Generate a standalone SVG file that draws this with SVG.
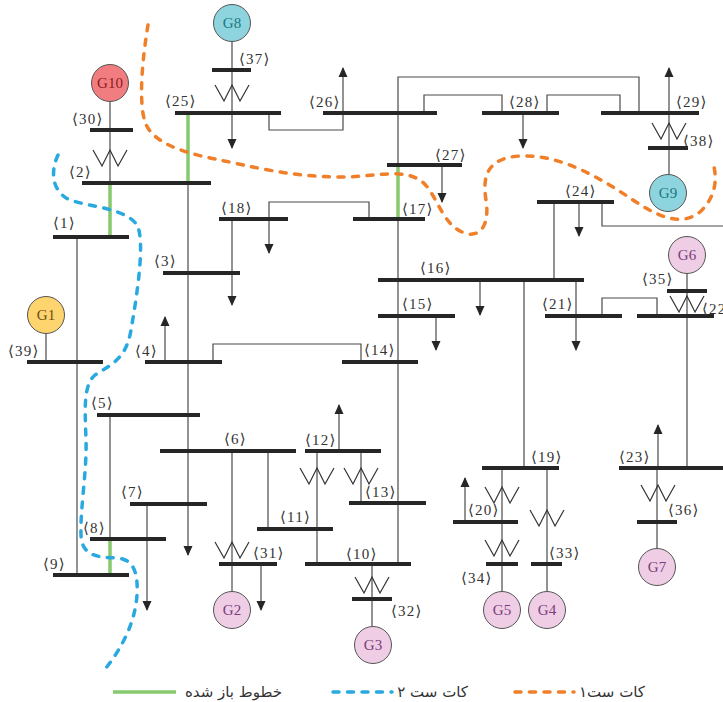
<svg xmlns="http://www.w3.org/2000/svg" xmlns:xlink="http://www.w3.org/1999/xlink" width="723" height="702" viewBox="0 0 723 702">
<style>
.bus{stroke:#262626;stroke-width:4;fill:none}
.ln{stroke:#4a4a4a;stroke-width:1.2;fill:none}
.open{stroke:#86c96e;stroke-width:3.5;fill:none}
.lbl{font-family:"Liberation Serif","DejaVu Serif",serif;font-size:15px;letter-spacing:1.2px;fill:#333}
.gt{font-family:"Liberation Serif","DejaVu Serif",serif;font-size:15px;text-anchor:middle}
.gc{stroke:#555;stroke-width:1}
.pink{fill:#efcde4}
.pinkt{fill:#7a3c7c}
.cyan{fill:#8ed4de}
.cyant{fill:#177a83}
.cut1{stroke:#f07f2a;stroke-width:3.5;fill:none;stroke-dasharray:6 8.5;stroke-linecap:round}
.cut2{stroke:#2aa9e0;stroke-width:3.5;fill:none;stroke-dasharray:6 8.5;stroke-linecap:round}
.leg{font-family:"DejaVu Sans","Noto Sans",sans-serif;font-size:15px;fill:#333}
</style>
<defs>
<marker id="ah" markerUnits="userSpaceOnUse" markerWidth="10" markerHeight="10" viewBox="0 0 10 10" refX="9" refY="5" orient="auto">
<path d="M0,0.5 L10,5 L0,9.5 Z" fill="#262626"/>
</marker>
<path id="tr" d="M-17,0 L-8,16 L0,0 L8,16 L17,0" stroke="#333" stroke-width="1.2" fill="none"/>
</defs>
<rect width="723" height="702" fill="#ffffff"/>

<g id="connectors">
<path class="ln" d="M110,102 V183"/>
<path class="ln" d="M232,42 V113"/>
<path class="ln" d="M232,113 V148" marker-end="url(#ah)"/>
<path class="ln" d="M269,113 V130 H343 V113"/>
<path class="ln" d="M343,113 V68" marker-end="url(#ah)"/>
<path class="ln" d="M398,564 V77 H639 V113"/>
<path class="ln" d="M424,113 V95 H502 V113"/>
<path class="ln" d="M547,113 V95 H620 V113"/>
<path class="ln" d="M669,113 V68" marker-end="url(#ah)"/>
<path class="ln" d="M669,113 V175"/>
<path class="ln" d="M523,113 V148" marker-end="url(#ah)"/>
<path class="ln" d="M369,219 V202 H269 V253" marker-end="url(#ah)"/>
<path class="ln" d="M232,219 V305" marker-end="url(#ah)"/>
<path class="ln" d="M442,165 V202" marker-end="url(#ah)"/>
<path class="ln" d="M579,202 V236" marker-end="url(#ah)"/>
<path class="ln" d="M602,202 V226 H723"/>
<path class="ln" d="M554,202 V280"/>
<path class="ln" d="M480,280 V315" marker-end="url(#ah)"/>
<path class="ln" d="M524,280 V468"/>
<path class="ln" d="M576,280 V350" marker-end="url(#ah)"/>
<path class="ln" d="M436,316 V350" marker-end="url(#ah)"/>
<path class="ln" d="M602,316 V298 H657 V316"/>
<path class="ln" d="M687,274 V468"/>
<path class="ln" d="M658,468 V425" marker-end="url(#ah)"/>
<path class="ln" d="M657,468 V548"/>
<path class="ln" d="M77,237 V575"/>
<path class="ln" d="M46,334 V362"/>
<path class="ln" d="M165,362 V317" marker-end="url(#ah)"/>
<path class="ln" d="M213,362 V344 H361 V362"/>
<path class="ln" d="M110,415 V539"/>
<path class="ln" d="M188,183 V555" marker-end="url(#ah)"/>
<path class="ln" d="M147,504 V610" marker-end="url(#ah)"/>
<path class="ln" d="M232,451 V591"/>
<path class="ln" d="M261,564 V610" marker-end="url(#ah)"/>
<path class="ln" d="M268,451 V529"/>
<path class="ln" d="M317,451 V564"/>
<path class="ln" d="M361,451 V503"/>
<path class="ln" d="M339,451 V405" marker-end="url(#ah)"/>
<path class="ln" d="M372,564 V626"/>
<path class="ln" d="M502,468 V591"/>
<path class="ln" d="M547,468 V591"/>
<path class="ln" d="M465,522 V478" marker-end="url(#ah)"/>
<path class="open" d="M110,183 V237"/>
<path class="open" d="M188,113 V183"/>
<path class="open" d="M398,165 V219"/>
<path class="open" d="M110,539 V575"/>
</g>

<g id="transformers">
<use xlink:href="#tr" x="110" y="150"/>
<use xlink:href="#tr" x="232" y="85"/>
<use xlink:href="#tr" x="669" y="123"/>
<use xlink:href="#tr" x="687" y="296"/>
<use xlink:href="#tr" x="317" y="468"/>
<use xlink:href="#tr" x="361" y="468"/>
<use xlink:href="#tr" x="232" y="542"/>
<use xlink:href="#tr" x="372" y="577"/>
<use xlink:href="#tr" x="502" y="487"/>
<use xlink:href="#tr" x="502" y="540"/>
<use xlink:href="#tr" x="547" y="510"/>
<use xlink:href="#tr" x="658" y="485"/>
</g>

<g id="bus1"><path class="bus" d="M53,237 H129"/><text class="lbl" x="53" y="228">⟨1⟩</text></g>
<g id="bus2"><path class="bus" d="M82,183 H211"/><text class="lbl" x="69" y="177">⟨2⟩</text></g>
<g id="bus3"><path class="bus" d="M163,273 H240"/><text class="lbl" x="154" y="266">⟨3⟩</text></g>
<g id="bus4"><path class="bus" d="M145,362 H222"/><text class="lbl" x="135" y="356">⟨4⟩</text></g>
<g id="bus5"><path class="bus" d="M97,415 H200"/><text class="lbl" x="91" y="408">⟨5⟩</text></g>
<g id="bus6"><path class="bus" d="M160,451 H296"/><text class="lbl" x="224" y="444">⟨6⟩</text></g>
<g id="bus7"><path class="bus" d="M130,504 H207"/><text class="lbl" x="121" y="497">⟨7⟩</text></g>
<g id="bus8"><path class="bus" d="M90,539 H166"/><text class="lbl" x="83" y="533">⟨8⟩</text></g>
<g id="bus9"><path class="bus" d="M53,575 H129"/><text class="lbl" x="43" y="569">⟨9⟩</text></g>
<g id="bus10"><path class="bus" d="M305,564 H411"/><text class="lbl" x="346" y="559">⟨10⟩</text></g>
<g id="bus11"><path class="bus" d="M257,529 H333"/><text class="lbl" x="280" y="522">⟨11⟩</text></g>
<g id="bus12"><path class="bus" d="M305,451 H381"/><text class="lbl" x="305" y="445">⟨12⟩</text></g>
<g id="bus13"><path class="bus" d="M349,503 H426"/><text class="lbl" x="365" y="497">⟨13⟩</text></g>
<g id="bus14"><path class="bus" d="M342,362 H418"/><text class="lbl" x="364" y="355">⟨14⟩</text></g>
<g id="bus15"><path class="bus" d="M378,316 H455"/><text class="lbl" x="402" y="309">⟨15⟩</text></g>
<g id="bus16"><path class="bus" d="M378,280 H584"/><text class="lbl" x="420" y="273">⟨16⟩</text></g>
<g id="bus17"><path class="bus" d="M353,219 H425"/><text class="lbl" x="402" y="214">⟨17⟩</text></g>
<g id="bus18"><path class="bus" d="M219,219 H288"/><text class="lbl" x="221" y="213">⟨18⟩</text></g>
<g id="bus19"><path class="bus" d="M482,468 H559"/><text class="lbl" x="531" y="462">⟨19⟩</text></g>
<g id="bus20"><path class="bus" d="M453,522 H518"/><text class="lbl" x="468" y="515">⟨20⟩</text></g>
<g id="bus21"><path class="bus" d="M545,316 H622"/><text class="lbl" x="542" y="309">⟨21⟩</text></g>
<g id="bus22"><path class="bus" d="M637,316 H714"/><text class="lbl" x="702" y="314">⟨22⟩</text></g>
<g id="bus23"><path class="bus" d="M619,468 H723"/><text class="lbl" x="619" y="462">⟨23⟩</text></g>
<g id="bus24"><path class="bus" d="M537,202 H614"/><text class="lbl" x="565" y="196">⟨24⟩</text></g>
<g id="bus25"><path class="bus" d="M175,113 H281"/><text class="lbl" x="165" y="106">⟨25⟩</text></g>
<g id="bus26"><path class="bus" d="M323,113 H437"/><text class="lbl" x="309" y="107">⟨26⟩</text></g>
<g id="bus27"><path class="bus" d="M387,165 H462"/><text class="lbl" x="435" y="160">⟨27⟩</text></g>
<g id="bus28"><path class="bus" d="M482,113 H559"/><text class="lbl" x="509" y="107">⟨28⟩</text></g>
<g id="bus29"><path class="bus" d="M601,113 H699"/><text class="lbl" x="676" y="107">⟨29⟩</text></g>
<g id="bus30"><path class="bus" d="M90,130 H133"/><text class="lbl" x="72" y="124">⟨30⟩</text></g>
<g id="bus31"><path class="bus" d="M219,564 H277"/><text class="lbl" x="253" y="558">⟨31⟩</text></g>
<g id="bus32"><path class="bus" d="M352,599 H392"/><text class="lbl" x="391" y="616">⟨32⟩</text></g>
<g id="bus33"><path class="bus" d="M531,564 H562"/><text class="lbl" x="549" y="558">⟨33⟩</text></g>
<g id="bus34"><path class="bus" d="M486,564 H518"/><text class="lbl" x="461" y="583">⟨34⟩</text></g>
<g id="bus35"><path class="bus" d="M667,291 H707"/><text class="lbl" x="642" y="284">⟨35⟩</text></g>
<g id="bus36"><path class="bus" d="M637,522 H677"/><text class="lbl" x="668" y="515">⟨36⟩</text></g>
<g id="bus37"><path class="bus" d="M212,70 H251"/><text class="lbl" x="239" y="64">⟨37⟩</text></g>
<g id="bus38"><path class="bus" d="M648,148 H688"/><text class="lbl" x="683" y="146">⟨38⟩</text></g>
<g id="bus39"><path class="bus" d="M27,362 H103"/><text class="lbl" x="8" y="356">⟨39⟩</text></g>

<g id="G1"><circle class="gc" cx="46" cy="315" r="18.5" fill="#fdd46e"/><text class="gt" x="46" y="320" fill="#6e4c14">G1</text></g>
<g id="G2"><circle class="gc pink" cx="232" cy="610" r="18.5"/><text class="gt pinkt" x="232" y="615">G2</text></g>
<g id="G3"><circle class="gc pink" cx="373" cy="645" r="18.5"/><text class="gt pinkt" x="373" y="650">G3</text></g>
<g id="G4"><circle class="gc pink" cx="547" cy="610" r="18.5"/><text class="gt pinkt" x="547" y="615">G4</text></g>
<g id="G5"><circle class="gc pink" cx="502" cy="610" r="18.5"/><text class="gt pinkt" x="502" y="615">G5</text></g>
<g id="G6"><circle class="gc pink" cx="687" cy="255" r="18.5"/><text class="gt pinkt" x="687" y="260">G6</text></g>
<g id="G7"><circle class="gc pink" cx="657" cy="567" r="18.5"/><text class="gt pinkt" x="657" y="572">G7</text></g>
<g id="G8"><circle class="gc cyan" cx="232" cy="23" r="18.5"/><text class="gt cyant" x="232" y="28">G8</text></g>
<g id="G9"><circle class="gc cyan" cx="668" cy="193" r="18.5"/><text class="gt cyant" x="668" y="198">G9</text></g>
<g id="G10"><circle class="gc" cx="110" cy="83" r="18.5" fill="#f27d80"/><text class="gt" x="110" y="88" fill="#8a1c1f">G10</text></g>

<g id="cutsets">
<path class="cut1" d="M148,25 C143,55 138,100 145,122 C152,142 180,152 215,159 C250,166 290,177 340,177 C375,177 400,168 420,180 C437,192 440,222 462,232 C480,240 490,225 486,200 C482,175 488,158 520,156 C560,154 600,178 630,198 C655,215 680,228 700,212 C715,198 718,180 713,163"/>
<path class="cut2" d="M58,155 C50,172 52,192 70,200 C90,207 125,208 137,225 C145,240 138,290 131,330 C126,360 110,365 95,375 C83,385 85,410 86,440 C87,470 80,510 81,535 C82,558 100,557 118,558 C135,560 138,575 137,595 C135,625 120,650 106,668"/>
</g>

<g id="legend">
<path class="open" d="M113,692 H176"/>
<text class="leg" x="282" y="697" text-anchor="end">خطوط باز شده</text>
<path class="cut2" d="M333,692 H392"/>
<text class="leg" x="468" y="697" text-anchor="end">کات ست ۲</text>
<path class="cut1" d="M515,692 H574"/>
<text class="leg" x="645" y="697" text-anchor="end">کات ست۱</text>
</g>
</svg>
